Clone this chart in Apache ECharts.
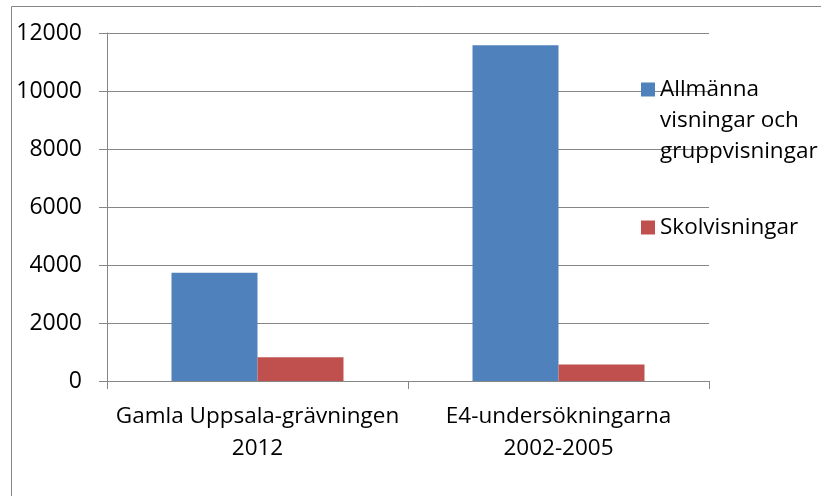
<!DOCTYPE html>
<html>
<head>
<meta charset="utf-8">
<script src="https://cdn.jsdelivr.net/npm/echarts@6/dist/echarts.min.js"></script>
<style>
html,body{margin:0;padding:0;background:#fff;}
#chart{width:821px;height:496px;}
</style>
</head>
<body>
<div id="chart"></div>
<script>
var categories = ["Gamla Uppsala-grävningen\n2012", "E4-undersökningarna\n2002-2005"];
var seriesNames = ["Allmänna visningar och gruppvisningar", "Skolvisningar"];
var allmanna = [3730, 11580];
var skolvisningar = [820, 570];
var yTicks = [0, 2000, 4000, 6000, 8000, 10000, 12000];

var FONT = "'Open Sans', sans-serif";
var GRAY = "#868686";
var chart = echarts.init(document.getElementById('chart'));
chart.setOption({
  animation: false,
  backgroundColor: '#fff',
  textStyle: { fontFamily: FONT },
  graphic: [{
    type: 'rect',
    shape: { x: 11.5, y: 6.5, width: 900, height: 600 },
    style: { fill: 'none', stroke: GRAY, lineWidth: 1 },
    silent: true
  }],
  grid: { left: 107, right: 112, top: 33, bottom: 115, containLabel: false },
  legend: [{
    data: [seriesNames[0]],
    left: 641, top: 12, padding: 0,
    orient: 'vertical',
    icon: 'rect', itemWidth: 14, itemHeight: 14,
    textStyle: { fontFamily: FONT, fontSize: 22.5, color: '#000', lineHeight: 31 },
    formatter: function () { return '\n\nAllmänna\nvisningar och\ngruppvisningar'; }
  }, {
    data: [seriesNames[1]],
    left: 641, top: 212, padding: 0,
    icon: 'rect', itemWidth: 14, itemHeight: 14,
    textStyle: { fontFamily: FONT, fontSize: 22.5, color: '#000', lineHeight: 31 }
  }],
  xAxis: {
    type: 'category',
    data: categories,
    axisLine: { lineStyle: { color: GRAY, width: 1 } },
    axisTick: { show: true, length: 8, alignWithLabel: false, lineStyle: { color: GRAY } },
    axisLabel: { color: '#000', fontSize: 22.5, fontFamily: FONT, lineHeight: 32, margin: 20, interval: 0 }
  },
  yAxis: {
    type: 'value',
    min: yTicks[0], max: yTicks[yTicks.length - 1], interval: 2000,
    axisLine: { show: true, lineStyle: { color: GRAY, width: 1 } },
    axisTick: { show: true, length: 8, lineStyle: { color: GRAY } },
    splitLine: { show: true, lineStyle: { color: GRAY, width: 1 } },
    axisLabel: { color: '#000', fontSize: 23, fontFamily: FONT, margin: 25,
      formatter: function (v) { return String(v); } }
  },
  series: [{
    name: seriesNames[0], type: 'bar', data: allmanna,
    itemStyle: { color: '#4F81BD' },
    barGap: '0%', barCategoryGap: '42.86%'
  }, {
    name: seriesNames[1], type: 'bar', data: skolvisningar,
    itemStyle: { color: '#C0504D' },
    barGap: '0%', barCategoryGap: '42.86%'
  }]
});
</script>
</body>
</html>
